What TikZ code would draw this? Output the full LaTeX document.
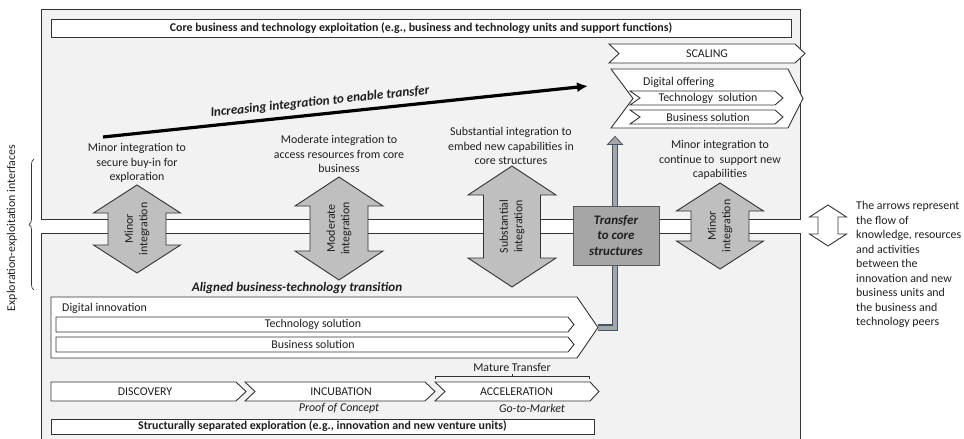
\documentclass[tikz,border=0pt]{standalone}
\usepackage{fontspec}
\setmainfont{Carlito}
\usetikzlibrary{arrows.meta,decorations.pathreplacing}

\definecolor{panel}{HTML}{F2F2F2}
\definecolor{flowgray}{HTML}{BFBFBF}
\definecolor{edge}{HTML}{333333}
\definecolor{txt}{HTML}{1F1F1F}
\definecolor{xferfill}{HTML}{A6A6A6}
\definecolor{xferedge}{HTML}{595959}
\definecolor{pipe}{HTML}{44546A}

% vertical double-headed block arrow: style, cx, top, bottom, head half-width, shaft half-width, head height
\newcommand\updown[7]{%
  \draw[#1] (#2,#3) -- ({#2+#5},{#3+#7}) -- ({#2+#6},{#3+#7}) -- ({#2+#6},{#4-#7})
    -- ({#2+#5},{#4-#7}) -- (#2,#4) -- ({#2-#5},{#4-#7}) -- ({#2-#6},{#4-#7})
    -- ({#2-#6},{#3+#7}) -- ({#2-#5},{#3+#7}) -- cycle;}

% chevron: style, left, notch, body end, tip, top, bottom
\newcommand\chevron[7]{%
  \draw[#1] (#2,#6) -- (#4,#6) -- (#5,{(#6+#7)/2}) -- (#4,#7) -- (#2,#7)
    -- (#3,{(#6+#7)/2}) -- cycle;}

\tikzset{
  lbl/.style={text=txt, font=\fontsize{11.9}{14.5}\selectfont, align=center, inner sep=0pt},
  lblleft/.style={lbl, align=left},
  boldlbl/.style={text=txt, font=\fontsize{11.9}{13}\selectfont\bfseries, inner sep=0pt},
  bilbl/.style={text=txt, font=\fontsize{13.1}{15.5}\selectfont\bfseries\itshape, align=center, inner sep=0pt},
  itlbl/.style={lbl, font=\fontsize{11.9}{14.5}\selectfont\itshape},
  framebox/.style={draw=edge, fill=white, line width=0.9pt},
  chev/.style={draw=edge, fill=white, line width=0.9pt, line join=miter},
  flowarrow/.style={draw=edge, fill=flowgray, line width=0.9pt},
  legendarrow/.style={draw=edge, fill=white, line width=0.9pt},
  panelline/.style={draw=edge, line width=0.9pt},
}

\begin{document}
\begin{tikzpicture}[x=1pt, y=-1pt]
\useasboundingbox (0,0) rectangle (964,439);

% exploitation (upper) and exploration (lower) panels, white interface band between
\fill[panel] (41,9) rectangle (800,219);
\draw[panelline] (41,9) rectangle (800,219);
\fill[panel] (41,233) rectangle (800,439);
\draw[panelline] (41,440) -- (41,233) -- (800,233) -- (800,440);

% interface brace and its label
\draw[edge, line width=0.7pt, decorate, decoration={brace, amplitude=5pt}]
  (34,290) -- (34,159);
\node[lbl, rotate=90] (ifc) at (12,228) {Exploration-exploitation interfaces};

% core business box
\node[framebox, minimum width=740, minimum height=18, inner sep=0pt] (core) at (421,28) {};
\node[boldlbl] (coretxt) at (core.center)
  {Core business and technology exploitation (e.g., business and technology units and support functions)};

% scaling and digital offering
\chevron{chev}{609}{619}{795}{805}{44}{63}
\node[lbl] (scaling) at (707,54) {SCALING};
\chevron{chev}{611}{633}{788}{803}{69}{128}
\node[lbl, anchor=west] (doffer) at (643,82) {Digital offering};
\chevron{chev}{630}{640}{775}{783}{91}{105}
\node[lbl] (dtech) at (708,98) {Technology \ solution};
\chevron{chev}{630}{640}{775}{783}{110}{124}
\node[lbl] (dbus) at (708,117) {Business solution};

% increasing integration arrow
\coordinate (inc-start) at (103,137);
\coordinate (inc-end) at (588,86);
\draw[black, line width=3.2pt, -{Latex[length=11pt,width=10pt]}] (inc-start) -- (inc-end);
\node[bilbl, rotate=6] (inctxt) at (320,102) {Increasing integration to enable transfer};

% integration descriptions
\node[lbl] (d1) at (137,163) {Minor integration to\\secure buy-in for\\exploration};
\node[lbl] (d2) at (339,154) {Moderate integration to\\access resources from core\\business};
\node[lbl] (d3) at (511,146) {Substantial integration to\\embed new capabilities in\\core structures};
\node[lbl] (d4) at (720,160) {Minor integration to\\continue to \ support new\\capabilities};

% integration arrows across the interface band
\updown{flowarrow}{137}{185}{273}{43.5}{29}{28}
\updown{flowarrow}{339}{177}{280}{44}{29}{29}
\updown{flowarrow}{512}{166}{287}{44}{28.5}{29}
\updown{flowarrow}{720}{183}{269}{43.5}{29}{28}
\node[lbl, rotate=90] (a1) at (137,229) {Minor\\integration};
\node[lbl, rotate=90] (a2) at (339,228.5) {Moderate\\integration};
\node[lbl, rotate=90] (a3) at (512,226.5) {Substantial\\integration};
\node[lbl, rotate=90] (a4) at (720,226) {Minor\\integration};

% transfer pipe from digital innovation up to digital offering
\coordinate (di-tip) at (598,327.5);
\coordinate (do-foot) at (615,144);
\coordinate (do-tip) at (615,136.5);
\draw[pipe, line width=6.5pt] (di-tip) -| (do-foot);
\draw[xferfill, line width=4pt] (di-tip) -| (do-foot);
\draw[pipe, fill=xferfill, line width=0.8pt, line join=miter]
  (607.5,144.5) -- (do-tip) -- (622.5,144.5) -- cycle;

% transfer box
\node[draw=xferedge, fill=xferfill, line width=0.9pt, minimum width=86, minimum height=59,
  inner sep=0pt, bilbl, font=\fontsize{13}{15.5}\selectfont\bfseries\itshape] (xfer) at (616,235.5) {Transfer\\to core\\structures};

% legend
\updown{legendarrow}{828}{205}{246}{18.5}{10}{12}
\node[lblleft, anchor=west] (legend) at (856,264.5)
  {The arrows represent\\the flow of\\knowledge, resources\\and activities\\between the\\innovation and new\\business units and\\the business and\\technology peers};

% aligned transition
\node[bilbl] (aligned) at (297,288) {Aligned business-technology transition};
\chevron{chev}{51}{51}{577}{598}{297}{358}
\node[lbl, anchor=west] (dinno) at (62,308) {Digital innovation};
\chevron{chev}{56}{56}{568}{574}{317}{332}
\node[lbl] (itech) at (313,324.5) {Technology solution};
\chevron{chev}{56}{56}{568}{574}{337}{352}
\node[lbl] (ibus) at (313,344.5) {Business solution};

% phases
\chevron{chev}{51}{51}{236}{246}{382}{401}
\node[lbl] (disc) at (145,391.5) {DISCOVERY};
\chevron{chev}{245}{255}{425}{435}{382}{401}
\node[lbl] (incu) at (341,391.5) {INCUBATION};
\chevron{chev}{435}{445}{590}{599}{382}{401}
\node[lbl] (accel) at (516.5,391.5) {ACCELERATION};
\node[itlbl] (poc) at (339,408) {Proof of Concept};
\node[itlbl] (gtm) at (532,408) {Go-to-Market};

% mature transfer bracket
\draw[edge, line width=0.9pt] (435,379) -- (435,376) -- (589,376) -- (589,379);
\draw[edge, line width=0.9pt] (512,376) -- (512,373.5);
\node[lbl] (mature) at (512,367) {Mature Transfer};

% exploration unit box
\node[framebox, minimum width=543, minimum height=15, inner sep=0pt] (explo) at (322.5,426.5) {};
\node[boldlbl] (explotxt) at (explo.center)
  {Structurally separated exploration (e.g., innovation and new venture units)};
\end{tikzpicture}
\end{document}
